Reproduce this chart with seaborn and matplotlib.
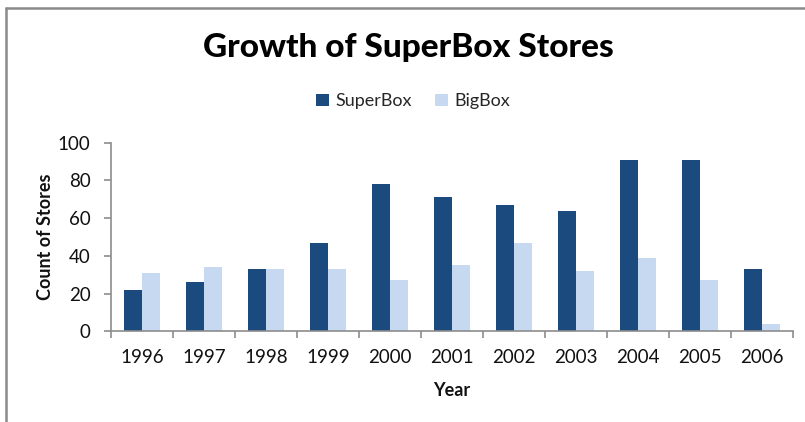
import matplotlib
matplotlib.use("Agg")
import matplotlib.pyplot as plt
import seaborn as sns
import pandas as pd
import numpy as np
from matplotlib.patches import Patch
from matplotlib.lines import Line2D

years = ["1996", "1997", "1998", "1999", "2000", "2001", "2002", "2003", "2004", "2005", "2006"]
superbox = [22, 26, 33, 47, 78, 71, 67, 64, 91, 91, 33]
bigbox = [31, 34, 33, 33, 27, 35, 47, 32, 39, 27, 4]
series_names = ["SuperBox", "BigBox"]
colors = ["#1a4a7e", "#c6d9f0"]
yticks = [0, 20, 40, 60, 80, 100]

df = pd.DataFrame({
    "Year": years * 2,
    "Count": superbox + bigbox,
    "Series": [series_names[0]] * len(years) + [series_names[1]] * len(years),
})

sns.set_theme(style="white")
plt.rcParams["font.family"] = ["Lato", "DejaVu Sans"]

fig = plt.figure(figsize=(8.05, 4.22), dpi=100)
ax = fig.add_axes([0.1383, 0.2149, 0.8464, 0.4469])

sns.barplot(data=df, x="Year", y="Count", hue="Series", palette=colors,
            width=0.575, saturation=1, ax=ax, legend=False, linewidth=0)

ax.set_xlim(-0.5, len(years) - 0.5)
ax.set_ylim(0, 100)
ax.set_yticks(yticks)
ax.set_yticklabels([str(v) for v in yticks], fontsize=13.5, color="#111111")

axis_col = "#8c8c8c"
for s in ["top", "right"]:
    ax.spines[s].set_visible(False)
for s in ["left", "bottom"]:
    ax.spines[s].set_color(axis_col)
    ax.spines[s].set_linewidth(1.2)

ax.tick_params(axis="y", which="major", direction="out", length=5, width=1.2,
               color=axis_col, pad=10, left=True)
ax.set_xticks(np.arange(-0.5, len(years), 1.0), minor=True)
ax.tick_params(axis="x", which="minor", direction="out", length=5, width=1.2,
               color=axis_col, bottom=True)
ax.tick_params(axis="x", which="major", length=0, pad=13, labelsize=13.5,
               labelcolor="#111111")

ax.set_xlabel("Year", fontsize=13, fontweight="bold", labelpad=11, color="#111111")
ax.set_ylabel("Count of Stores", fontsize=13, fontweight="bold", labelpad=3,
              color="#111111")

fig.text(0.507, 0.888, "Growth of SuperBox Stores", ha="center", va="center",
         fontsize=24, fontweight="black", color="#000000")

handles = [Patch(facecolor=c, edgecolor="none") for c in colors]
fig.legend(handles, series_names, loc="center", bbox_to_anchor=(0.513, 0.76),
           ncol=2, frameon=False, fontsize=13, handlelength=0.7,
           handleheight=0.7, handletextpad=0.35, columnspacing=1.3)

# outer frame (left and top edges visible)
fig.add_artist(Line2D([0.0075, 0.0075], [0.0, 0.981], transform=fig.transFigure,
                      color="#8a8a8a", linewidth=1.8))
fig.add_artist(Line2D([0.0075, 1.0], [0.981, 0.981], transform=fig.transFigure,
                      color="#8a8a8a", linewidth=1.8))

fig.savefig("out.png", dpi=100)
